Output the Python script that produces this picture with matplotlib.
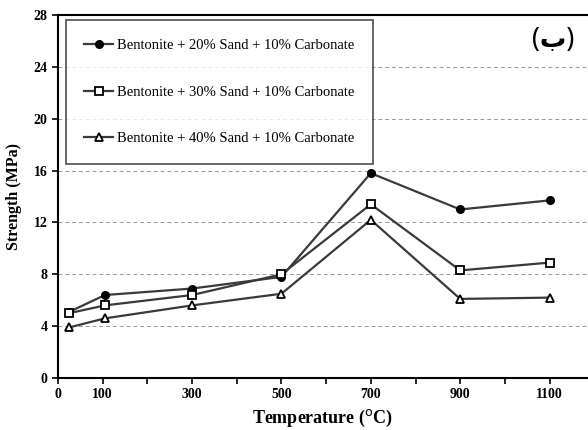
import numpy as np
import matplotlib.pyplot as plt

plt.rcParams['font.family'] = ['Liberation Serif', 'DejaVu Sans']

# temperature (C)
temps = [25, 105, 300, 500, 700, 900, 1100]
# strength (MPa)
s20 = [5.1, 6.4, 6.9, 7.8, 15.8, 13.0, 13.7]
s30 = [5.0, 5.6, 6.4, 8.0, 13.4, 8.3, 8.9]
s40 = [3.9, 4.6, 5.6, 6.5, 12.2, 6.1, 6.2]
labels = ['Bentonite + 20% Sand + 10% Carbonate',
          'Bentonite + 30% Sand + 10% Carbonate',
          'Bentonite + 40% Sand + 10% Carbonate']
xticklabels = ['0', '100', '300', '500', '700', '900', '1100']
xtickpos = [0, 100, 300, 500, 700, 900, 1100]

fig = plt.figure(figsize=(5.88, 4.30), dpi=100)
ax = fig.add_axes([58 / 588, 52 / 430, 530 / 588, 363 / 430])

lc = '#3a3a3a'
l1, = ax.plot(temps, s20, '-', color=lc, lw=1.6, marker='o', ms=5.5,
              mfc='black', mec='black', label=labels[0])
l2, = ax.plot(temps, s30, '-', color=lc, lw=1.6, marker='s', ms=6,
              mfc='white', mec='black', mew=1.3, label=labels[1])
l3, = ax.plot(temps, s40, '-', color=lc, lw=1.6, marker='^', ms=6,
              mfc='white', mec='black', mew=1.3, label=labels[2])

ax.set_xlim(0, 1186)
ax.set_ylim(0, 28)
ax.set_yticks(np.arange(0, 29, 4))
ax.set_xticks(np.arange(0, 1200, 100), minor=False)
ax.set_xticklabels(['' if t not in xtickpos else xticklabels[xtickpos.index(t)]
                    for t in np.arange(0, 1200, 100)])
ax.tick_params(direction='out', length=4, width=1.2, labelsize=10)
for lab in ax.get_xticklabels() + ax.get_yticklabels():
    lab.set_fontweight('bold')

ax.yaxis.grid(True, ls=(0, (4, 3)), color='#999999', lw=0.7)
ax.set_axisbelow(True)
ax.spines['right'].set_visible(False)
for sp in ['left', 'bottom', 'top']:
    ax.spines[sp].set_linewidth(1.5)

ax.set_xlabel('Temperature ($^{\\rm o}$C)', fontsize=13, fontweight='bold', labelpad=5)
ax.set_ylabel('Strength (MPa)', fontsize=11.5, fontweight='bold', labelpad=8)

leg = ax.legend(handles=[l1, l2, l3], loc='upper left', bbox_to_anchor=(0.015, 0.985),
                fontsize=10.5, frameon=True, fancybox=False, labelspacing=2.3,
                handlelength=2.0, handletextpad=0.25, borderpad=1.25, borderaxespad=0)
leg.get_frame().set_edgecolor('#333333')
leg.get_frame().set_linewidth(1.3)

ax.text(0.975, 0.93, '(ب)', transform=ax.transAxes, ha='right', va='center',
        fontsize=19, fontweight='bold', family=['Noto Sans', 'DejaVu Sans'])

fig.savefig('out.png', dpi=100)
